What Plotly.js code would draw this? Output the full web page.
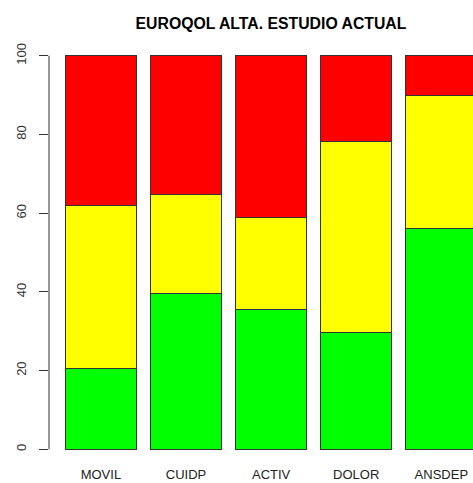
<!DOCTYPE html>
<html>
<head>
<meta charset="utf-8">
<script src="https://cdn.plot.ly/plotly-3.0.1.min.js"></script>
<style>html,body{margin:0;padding:0;background:#fff;}#chart{width:473px;height:483px;}</style>
</head>
<body>
<div id="chart"></div>
<script>
const categories = ["MOVIL", "CUIDP", "ACTIV", "DOLOR", "ANSDEP"];
const greenVals  = [20.6, 39.7, 35.4, 29.6, 56.2];
const yellowVals = [41.3, 25.1, 23.6, 48.6, 33.6];
const redVals    = [38.1, 35.2, 41.0, 21.8, 10.2];
const yTicks = [0, 20, 40, 60, 80, 100];

const outline = {color: '#333333', width: 1};
const traces = [
  {type: 'bar', x: categories, y: greenVals, marker: {color: '#00FF00', line: outline}},
  {type: 'bar', x: categories, y: yellowVals, marker: {color: '#FFFF00', line: outline}},
  {type: 'bar', x: categories, y: redVals, marker: {color: '#FF0000', line: outline}}
];

const layout = {
  width: 473, height: 483,
  margin: {l: 49, r: 0, t: 40, b: 28, pad: 0},
  paper_bgcolor: '#ffffff', plot_bgcolor: '#ffffff',
  barmode: 'stack', bargap: 1/6,
  showlegend: false,
  font: {family: 'Liberation Sans, Arial, sans-serif', color: '#000'},
  title: {
    text: '<b>EUROQOL ALTA. ESTUDIO ACTUAL</b>',
    font: {size: 15.8, family: 'Liberation Sans, Arial, sans-serif', color: '#000'},
    xref: 'container', x: 271/473, xanchor: 'center',
    yref: 'container', y: 1 - 23/483, yanchor: 'middle'
  },
  xaxis: {
    type: 'category', range: [-0.61, 4.372],
    showgrid: false, zeroline: false, showline: false, ticks: '',
    tickfont: {size: 13, color: '#222'},
    ticklabelstandoff: 10
  },
  yaxis: {
    range: [-1.45, 104], tickvals: yTicks, ticktext: yTicks.map(String),
    showgrid: false, zeroline: false, showline: false,
    ticks: 'outside', ticklen: 9, tickwidth: 1, tickcolor: '#333',
    tickangle: -90, tickfont: {size: 13, color: '#333'},
    ticklabelstandoff: 8
  },
  shapes: [{
    type: 'line', xref: 'paper', yref: 'y', x0: 0, x1: 0, y0: 0, y1: 100,
    line: {color: '#333', width: 1}
  }]
};

Plotly.newPlot('chart', traces, layout, {displayModeBar: false, staticPlot: true});
</script>
</body>
</html>
